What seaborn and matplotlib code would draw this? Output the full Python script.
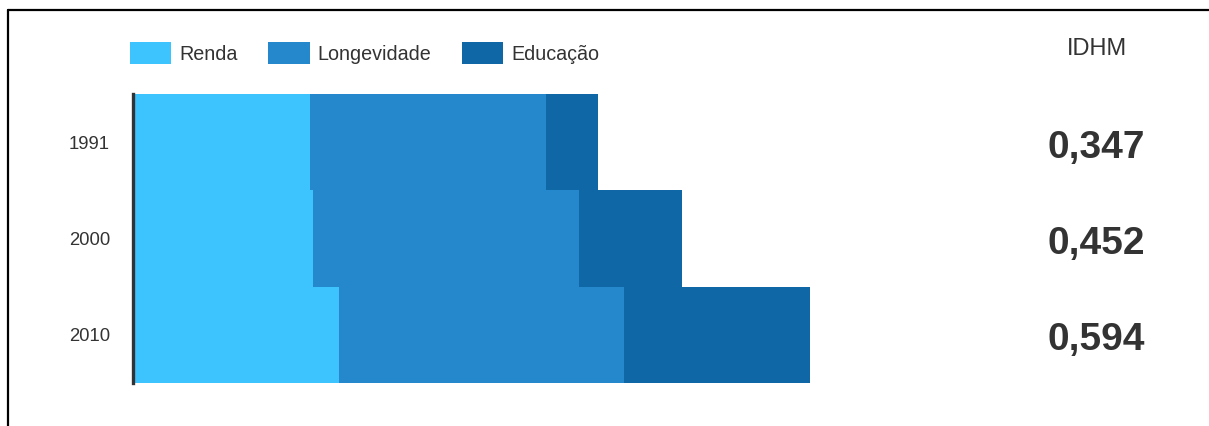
import matplotlib
matplotlib.use("Agg")
import matplotlib.pyplot as plt
from matplotlib.lines import Line2D
from matplotlib.patches import Patch
import seaborn as sns
import pandas as pd
import numpy as np

# ---- data ----
anos = ["1991", "2000", "2010"]
renda = [0.474, 0.482, 0.552]
longevidade = [0.630, 0.711, 0.762]
educacao = [0.139, 0.276, 0.497]
idhm_labels = ["0,347", "0,452", "0,594"]
componentes = ["Renda", "Longevidade", "Educação"]
cores = ["#3DC4FF", "#2588CC", "#1067A6"]

sns.set_theme(style="white")
plt.rcParams["font.family"] = ["Liberation Sans", "DejaVu Sans"]

W, H = 1209, 426
fig = plt.figure(figsize=(W / 100, H / 100), dpi=100)

# axes: bars start at x=133px, top of bars at 94px, bottom at 383px
left_px, right_px = 133, 1180
top_px, bot_px = 94, 383
ax = fig.add_axes([left_px / W, 1 - bot_px / H, (right_px - left_px) / W, (bot_px - top_px) / H])

df = pd.DataFrame({"Ano": anos, "Renda": renda, "Longevidade": longevidade, "Educação": educacao})
df["c1"] = df["Renda"]
df["c2"] = df["Renda"] + df["Longevidade"]
df["c3"] = df["c2"] + df["Educação"]

# draw cumulative totals back to front
for col, cor in zip(["c3", "c2", "c1"], cores[::-1]):
    sns.barplot(data=df, x=col, y="Ano", orient="h", color=cor, width=1.0,
                linewidth=0, saturation=1, ax=ax, order=anos)

px_per_unit = 374.0
ax.set_xlim(0, (right_px - left_px) / px_per_unit)
ax.set_ylim(2.5, -0.5)
ax.set_xlabel("")
ax.set_ylabel("")
ax.set_xticks([])
for s in ["top", "right", "bottom"]:
    ax.spines[s].set_visible(False)
ax.spines["left"].set_color("#333333")
ax.spines["left"].set_linewidth(2.4)
ax.tick_params(axis="y", length=0, pad=16.5, labelsize=13.3, labelcolor="#333333")

# IDHM header and values
fig.text(1097 / W, 1 - 49 / H, "IDHM", ha="center", va="center", fontsize=17, color="#333333")
for lab, yc in zip(idhm_labels, [148, 244, 340]):
    fig.text(1096 / W, 1 - yc / H, lab, ha="center", va="center", fontsize=28,
             fontweight="bold", color="#333333")

# legend
handles = [Patch(facecolor=c, edgecolor="none", label=l) for c, l in zip(cores, componentes)]
fs = 14.2
fig.legend(handles=handles, loc="center left", bbox_to_anchor=(130 / W, 1 - 53 / H),
           ncol=3, frameon=False, fontsize=fs, handlelength=2.1, handleheight=1.3,
           handletextpad=0.4, columnspacing=1.55, borderpad=0, borderaxespad=0,
           labelcolor="#333333")

# frame lines
fig.add_artist(Line2D([8 / W, 1], [1 - 10 / H, 1 - 10 / H], transform=fig.transFigure,
                      color="black", linewidth=1.6))
fig.add_artist(Line2D([8 / W, 8 / W], [1 - 10 / H, 0], transform=fig.transFigure,
                      color="black", linewidth=1.6))

fig.savefig("out.png", dpi=100)
